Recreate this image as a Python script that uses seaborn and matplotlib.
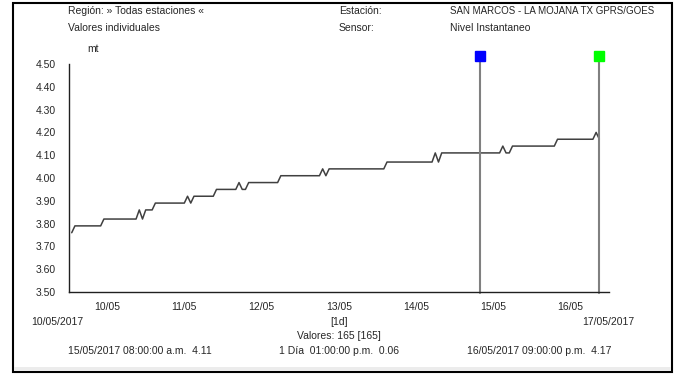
import pandas as pd
import matplotlib
matplotlib.use("Agg")
import matplotlib.pyplot as plt
from matplotlib.patches import Rectangle
import seaborn as sns

# water level readings (hours after 10/05/2017 00:00, metres)
hours = [1, 2, 10, 11, 21, 22, 23, 24, 26, 27, 36, 37, 38, 39, 45, 46,
         52, 53, 54, 55, 56, 65, 66, 78, 79, 80, 81, 98, 99, 113, 114,
         115, 116, 134, 135, 136, 137, 138, 151, 152, 163, 164, 165]
levels = [3.76, 3.79, 3.79, 3.82, 3.82, 3.86, 3.82, 3.86, 3.86, 3.89,
          3.89, 3.92, 3.89, 3.92, 3.92, 3.95, 3.95, 3.98, 3.95, 3.95,
          3.98, 3.98, 4.01, 4.01, 4.04, 4.01, 4.04, 4.04, 4.07, 4.07,
          4.11, 4.07, 4.11, 4.11, 4.14, 4.11, 4.11, 4.14, 4.14, 4.17,
          4.17, 4.20, 4.17]

day_labels = ["10/05", "11/05", "12/05", "13/05", "14/05", "15/05", "16/05"]
y_ticks = [3.50, 3.60, 3.70, 3.80, 3.90, 4.00, 4.10, 4.20, 4.30, 4.40, 4.50]

cursor_hours = [128, 165]
cursor_values = [4.11, 4.17]
cursor_colors = ["#0000ff", "#00ff00"]

W, H = 677, 375
FS = 7.5


def fx(x):
    return x / W


def fy(y):
    return 1 - y / H


sns.set_theme(style="white")
plt.rcParams["font.family"] = ["Liberation Sans", "DejaVu Sans"]
plt.rcParams["font.size"] = FS

df = pd.DataFrame({"hora": hours, "nivel": levels})

fig = plt.figure(figsize=(W / 100, H / 100), dpi=100)
fig.patch.set_facecolor("white")

# outer frame and grey strip at the bottom
fig.patches.append(Rectangle((fx(13), fy(372)), fx(672) - fx(13), fy(3) - fy(372),
                             transform=fig.transFigure, fill=False,
                             edgecolor="black", linewidth=1.5))
fig.patches.append(Rectangle((fx(14), fy(371)), fx(671) - fx(14), fy(367) - fy(371),
                             transform=fig.transFigure, facecolor="#ececec",
                             edgecolor="none"))

ax = fig.add_axes([fx(68.5), fy(292), fx(609) - fx(68.5), fy(64) - fy(292)])
sns.lineplot(data=df, x="hora", y="nivel", ax=ax, color="#404040",
             linewidth=1.1, estimator=None)

ax.set_xlim(0, 168)
ax.set_ylim(3.5, 4.5)
ax.set_xlabel("")
ax.set_ylabel("")
for side in ["top", "right"]:
    ax.spines[side].set_visible(False)
for side in ["left", "bottom"]:
    ax.spines[side].set_color("#202020")
    ax.spines[side].set_linewidth(1.0)

ax.set_yticks(y_ticks)
ax.set_yticklabels([f"{v:.2f}" for v in y_ticks])
ax.tick_params(axis="y", direction="out", length=5, width=1, color="#202020",
               pad=4, labelsize=FS)
ax.set_xticks([24 * i for i in range(8)])
ax.set_xticklabels([])
ax.set_xticks([24 * i + 12 for i in range(7)], minor=True)
ax.set_xticklabels(day_labels, minor=True)
ax.tick_params(axis="x", which="major", direction="out", length=6, width=1,
               color="#202020")
ax.tick_params(axis="x", which="minor", length=0, pad=7, labelsize=FS)

# cursors
for h, c in zip(cursor_hours, cursor_colors):
    ax.plot([h, h], [3.495, 4.51], color="#808080", linewidth=1.5, clip_on=False)
    ax.plot([h], [4.533], marker="s", markersize=7.5, color=c,
            markeredgecolor=c, clip_on=False)

# header
fig.text(fx(68), fy(11), "Región: » Todas estaciones «", va="center")
fig.text(fx(68), fy(28), "Valores individuales", va="center")
fig.text(fx(339), fy(11), "Estación:", va="center")
fig.text(fx(339), fy(28), "Sensor:", va="center")
fig.text(fx(450), fy(11), "SAN MARCOS - LA MOJANA TX GPRS/GOES", va="center", fontsize=7)
fig.text(fx(450), fy(28), "Nivel Instantaneo", va="center")
fig.text(fx(87), fy(49), "mt", va="center")

# footer
fig.text(fx(57), fy(322), "10/05/2017", va="center", ha="center")
fig.text(fx(608), fy(322), "17/05/2017", va="center", ha="center")
fig.text(fx(339), fy(322), "[1d]", va="center", ha="center")
fig.text(fx(339), fy(336), "Valores: 165 [165]", va="center", ha="center")

start = pd.Timestamp("2017-05-10 00:00")
t1 = start + pd.Timedelta(hours=cursor_hours[0])
t2 = start + pd.Timedelta(hours=cursor_hours[1])


def fmt(t):
    s = t.strftime("%d/%m/%Y %I:%M:%S ")
    return s + ("a.m." if t.hour < 12 else "p.m.")


diff = t2 - t1
diff_clock = (pd.Timestamp(0) + pd.Timedelta(seconds=diff.seconds)).strftime("%I:%M:%S")
fig.text(fx(68), fy(351), f"{fmt(t1)}  {cursor_values[0]:.2f}", va="center")
fig.text(fx(339), fy(351),
         f"{diff.days} Día  {diff_clock} p.m.  {cursor_values[1] - cursor_values[0]:.2f}",
         va="center", ha="center")
fig.text(fx(611), fy(351), f"{fmt(t2)}  {cursor_values[1]:.2f}", va="center",
         ha="right")

fig.savefig("out.png", dpi=100)
